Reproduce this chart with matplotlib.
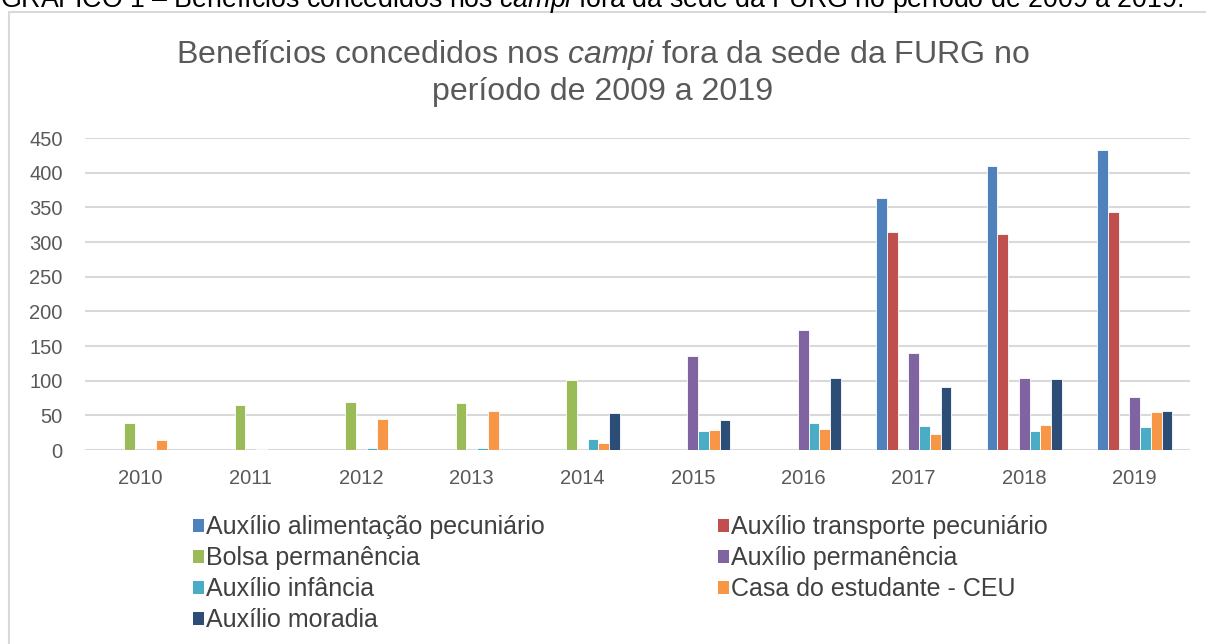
import numpy as np
import matplotlib
matplotlib.use("Agg")
import matplotlib.pyplot as plt
from matplotlib.patches import Patch, Rectangle

plt.rcParams['font.family'] = ['Liberation Sans', 'DejaVu Sans']
plt.rcParams['mathtext.fontset'] = 'custom'
plt.rcParams['mathtext.rm'] = 'Liberation Sans'
plt.rcParams['mathtext.it'] = 'Liberation Sans:italic'

years = ["2010", "2011", "2012", "2013", "2014", "2015", "2016", "2017", "2018", "2019"]

alimentacao = [0, 0, 0, 0, 0, 0, 0, 364, 410, 432]
transporte = [0, 0, 0, 0, 0, 0, 0, 314, 311, 343]
bolsa = [39, 65, 69, 68, 101, 0, 0, 0, 0, 0]
permanencia = [0, 0, 0, 0, 0, 135, 173, 140, 104, 76]
infancia = [0, 1, 3, 3, 16, 27, 39, 34, 27, 33]
casa = [15, 0, 44, 56, 10, 29, 31, 23, 36, 55]
moradia = [0, 0, 0, 0, 53, 43, 104, 91, 103, 56]

series = [
    ("Auxílio alimentação pecuniário", alimentacao, "#4F81BD"),
    ("Auxílio transporte pecuniário", transporte, "#C0504D"),
    ("Bolsa permanência", bolsa, "#9BBB59"),
    ("Auxílio permanência", permanencia, "#8064A2"),
    ("Auxílio infância", infancia, "#4BACC6"),
    ("Casa do estudante - CEU", casa, "#F79646"),
    ("Auxílio moradia", moradia, "#2C4D75"),
]

W, H = 1206, 644
fig = plt.figure(figsize=(W / 100, H / 100), dpi=100)

# outer frame of the chart (cut at the right and bottom like the scan)
fig.patches.append(Rectangle((9 / W, -0.1), 1.2, 1 - 12 / H + 0.1, transform=fig.transFigure,
                             fill=False, edgecolor="#d9d9d9", linewidth=1.5))

# caption above the frame, partly cut off in the source too
fig.text(0.0, 1 - 7 / H, "GRÁFICO 1 – Benefícios concedidos nos $\\mathit{campi}$ fora da sede da FURG no período de 2009 a 2019.",
         fontsize=19.3, color="black", ha="left", va="baseline")

fig.text(0.5, 1 - 63 / H, "Benefícios concedidos nos $\\mathit{campi}$ fora da sede da FURG no",
         fontsize=23.1, color="#595959", ha="center", va="baseline")
fig.text(0.5, 1 - 100 / H, "período de 2009 a 2019",
         fontsize=23.1, color="#595959", ha="center", va="baseline")

ax = fig.add_axes([85 / W, 1 - 450 / H, (1190 - 85) / W, (450 - 138) / H])

x = np.arange(len(years))
bw = 0.097
n = len(series)
for i, (name, vals, col) in enumerate(series):
    vals = np.array(vals)
    keep = vals > 0
    ax.bar(x[keep] + (i - (n - 1) / 2) * bw, vals[keep], width=bw, color=col,
           edgecolor="white", linewidth=0.6, zorder=3)

ax.set_xlim(-0.5, len(years) - 0.5)
ax.set_ylim(0, 450)
ax.set_yticks(range(0, 451, 50))
ax.set_xticks(x)
ax.set_xticklabels(years)
ax.grid(axis="y", color="#d9d9d9", linewidth=1.5, zorder=0)
ax.set_axisbelow(True)
for s in ax.spines.values():
    s.set_visible(False)
ax.tick_params(length=0, labelsize=14.5, labelcolor="#595959")
ax.tick_params(axis="y", pad=16)
ax.tick_params(axis="x", pad=14)

# legend in two columns, filled row by row like the original
handles = [Patch(facecolor=c, label=nm) for nm, v, c in series]
left_col = [handles[0], handles[2], handles[4], handles[6]]
right_col = [handles[1], handles[3], handles[5]]
for hs, xpx in ((left_col, 193), (right_col, 718)):
    fig.legend(handles=hs, loc="upper left", bbox_to_anchor=(xpx / W, 1 - 515 / H),
               frameon=False, fontsize=18, handlelength=0.42, handleheight=0.42,
               handletextpad=0.1, labelspacing=0.28, borderpad=0, borderaxespad=0,
               labelcolor="#404040")

fig.savefig("out.png", dpi=100)
